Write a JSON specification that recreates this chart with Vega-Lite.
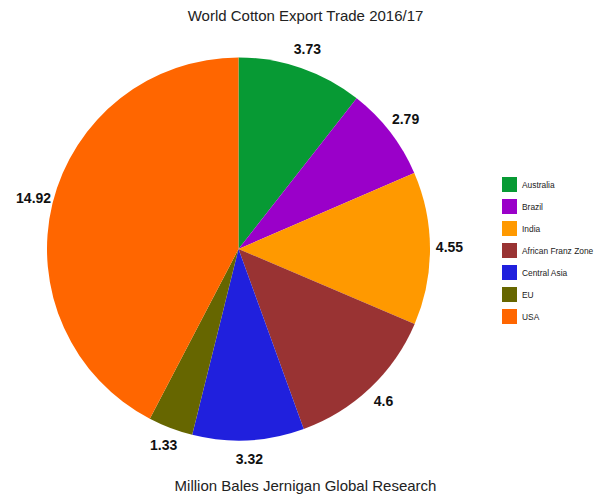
{
  "$schema": "https://vega.github.io/schema/vega-lite/v6.json",
  "width": 477,
  "height": 498,
  "padding": {"left": 0, "top": 0, "right": 118, "bottom": 0},
  "autosize": "none",
  "background": "white",
  "title": {
    "text": "World Cotton Export Trade 2016/17",
    "subtitle": "Million Bales Jernigan Global Research",
    "anchor": "middle",
    "frame": "group",
    "orient": "top",
    "offset": -494,
    "dx": 67,
    "font": "Liberation Sans",
    "fontSize": 15,
    "fontWeight": "normal",
    "color": "#222222",
    "subtitleFont": "Liberation Sans",
    "subtitleFontSize": 15,
    "subtitleColor": "#222222",
    "subtitlePadding": 455
  },
  "data": {
    "values": [
      {"country": "Australia", "value": 3.73, "rank": 1},
      {"country": "Brazil", "value": 2.79, "rank": 2},
      {"country": "India", "value": 4.55, "rank": 3},
      {"country": "African Franz Zone", "value": 4.6, "rank": 4},
      {"country": "Central Asia", "value": 3.32, "rank": 5},
      {"country": "EU", "value": 1.33, "rank": 6},
      {"country": "USA", "value": 14.92, "rank": 7}
    ]
  },
  "layer": [
    {
      "mark": {"type": "arc", "outerRadius": 191.5},
      "encoding": {
        "theta": {"field": "value", "type": "quantitative", "stack": true},
        "order": {"field": "rank", "type": "quantitative"},
        "color": {
          "field": "country",
          "type": "nominal",
          "scale": {
            "domain": ["Australia", "Brazil", "India", "African Franz Zone", "Central Asia", "EU", "USA"],
            "range": ["#079A34", "#9A00C9", "#FF9900", "#993333", "#2020DD", "#666600", "#FF6600"]
          },
          "legend": {
            "orient": "none",
            "legendX": 502,
            "legendY": 177,
            "title": null,
            "symbolType": "square",
            "symbolSize": 225,
            "symbolStrokeWidth": 0,
            "symbolOpacity": 1,
            "rowPadding": 7,
            "labelOffset": 5,
            "padding": 0,
            "labelFont": "Liberation Sans",
            "labelFontSize": 8.4,
            "labelColor": "#222222",
            "labelLimit": 200
          }
        }
      }
    },
    {
      "mark": {"type": "text", "radius": 211, "font": "Liberation Sans", "fontSize": 14, "fontWeight": "bold", "color": "#111111"},
      "encoding": {
        "theta": {"field": "value", "type": "quantitative", "stack": true},
        "order": {"field": "rank", "type": "quantitative"},
        "text": {"field": "value", "type": "quantitative"}
      }
    }
  ]
}
